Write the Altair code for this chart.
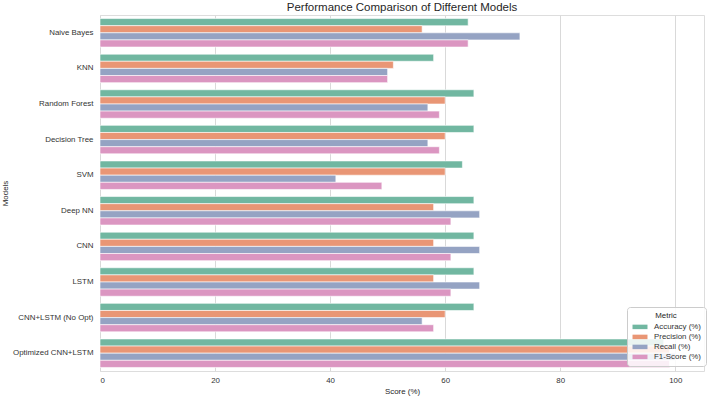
import altair as alt
import pandas as pd

models = ["Naive Bayes", "KNN", "Random Forest", "Decision Tree", "SVM",
          "Deep NN", "CNN", "LSTM", "CNN+LSTM (No Opt)", "Optimized CNN+LSTM"]
metrics = ["Accuracy (%)", "Precision (%)", "Recall (%)", "F1-Score (%)"]
accuracy = [64, 58, 65, 65, 63, 65, 65, 65, 65, 98]
precision = [56, 51, 60, 60, 60, 58, 58, 58, 60, 99]
recall = [73, 50, 57, 57, 41, 66, 66, 66, 56, 100]
f1 = [64, 50, 59, 59, 49, 61, 61, 61, 58, 99]
colors = ["#71b7a1", "#e99675", "#95a3c3", "#db96c1"]

rows = []
for i, m in enumerate(models):
    for met, vals in zip(metrics, [accuracy, precision, recall, f1]):
        rows.append({"Model": m, "Metric": met, "Score": vals[i]})
df = pd.DataFrame(rows)

FONT = "Liberation Sans"
FS = 7.9

chart = alt.Chart(df).mark_bar(stroke="white", strokeWidth=0.6).encode(
    x=alt.X("Score:Q", title="Score (%)",
            scale=alt.Scale(domain=[0, 105], nice=False, zero=True),
            axis=alt.Axis(values=[0, 20, 40, 60, 80, 100], grid=True, gridColor="#d9d9d9",
                          ticks=False, domain=False, labelPadding=5, titlePadding=4,
                          labelFontSize=FS, titleFontSize=FS, labelColor="#333333",
                          titleColor="#262626", labelFont=FONT, titleFont=FONT,
                          titleFontWeight="normal")),
    y=alt.Y("Model:N", title="Models", sort=models,
            scale=alt.Scale(paddingInner=0.2, paddingOuter=0.1),
            axis=alt.Axis(ticks=False, domain=False, grid=False, labelPadding=7,
                          labelFontSize=FS, titleFontSize=FS, labelColor="#333333",
                          titleColor="#262626", labelFont=FONT, titleFont=FONT,
                          titleFontWeight="normal", titlePadding=3)),
    yOffset=alt.YOffset("Metric:N", sort=metrics),
    color=alt.Color("Metric:N", sort=metrics,
                    scale=alt.Scale(domain=metrics, range=colors),
                    legend=alt.Legend(orient="none", legendX=527, legendY=292,
                                      title="Metric", titleAnchor="middle",
                                      titleFontWeight="normal", titleFontSize=FS,
                                      titleFont=FONT, labelFont=FONT, labelFontSize=FS,
                                      labelColor="#333333", titleColor="#262626",
                                      symbolType="M-2,-0.6H2V0.6H-2Z", symbolSize=56,
                                      symbolStrokeWidth=0, symbolOffset=4, labelOffset=10,
                                      rowPadding=2, titlePadding=3,
                                      fillColor="rgba(255,255,255,0.85)",
                                      strokeColor="#cccccc", cornerRadius=3, padding=5)),
).properties(
    width=604, height=356,
    title=alt.TitleParams("Performance Comparison of Different Models", fontSize=11.5,
                          font=FONT, fontWeight="normal", color="#262626", offset=2),
    padding={"left": 100, "top": 15, "right": 4, "bottom": 27},
    autosize=alt.AutoSizeParams(type="none"),
).configure_view(stroke="#cccccc", strokeWidth=1).configure(background="white")

chart.save("out.html", embed_options={"renderer": "svg", "actions": False})
